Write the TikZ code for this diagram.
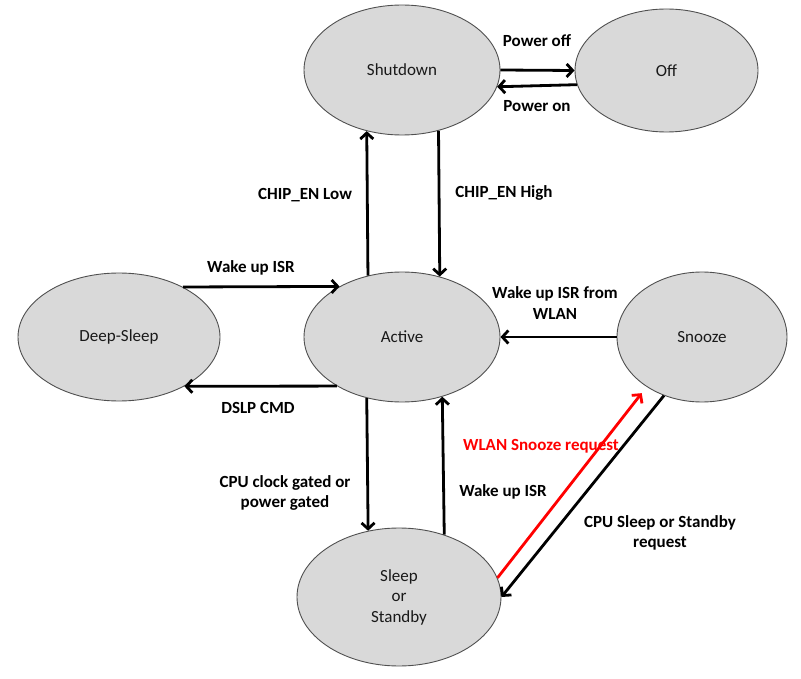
\documentclass[tikz,border=0pt]{standalone}
\usepackage{fontspec}
\setmainfont{Carlito}
\usetikzlibrary{shapes.geometric,arrows.meta}
\definecolor{stfill}{RGB}{217,217,217}
\definecolor{stline}{RGB}{80,80,80}
\definecolor{sttext}{RGB}{25,25,25}
\tikzset{
  state/.style={ellipse, draw=stline, line width=0.9pt, fill=stfill, inner sep=0pt,
    text=sttext, font=\fontsize{17}{20.5}\selectfont, align=center},
  arr/.style={line width=2.8pt, -{Straight Barb[length=6pt,width=13pt]}},
  redarr/.style={arr, draw=red},
  lbl/.style={font=\fontsize{17}{20.5}\selectfont\bfseries, align=center, inner sep=0pt},
  redlbl/.style={lbl, text=red}
}
\begin{document}
\begin{tikzpicture}[x=1pt,y=-1pt]
\useasboundingbox (0,0) rectangle (801,679);
% states
\node[state, minimum width=196pt, minimum height=130pt] (sd) at (402,70) {Shutdown};
\node[state, minimum width=183pt, minimum height=123pt] (off) at (666.5,70.5) {Off};
\node[state, minimum width=202pt, minimum height=128pt] (ds) at (119,337) {Deep-Sleep};
\node[state, minimum width=196pt, minimum height=130pt] (act) at (402,337) {Active};
\node[state, minimum width=170pt, minimum height=130pt] (sn) at (702,337) {Snooze};
\node[state, minimum width=204pt, minimum height=138pt] (sl) at (399,597) {Sleep\\or\\Standby};
% connectors
\draw[arr] (sd.0) -- (off.180);
\draw[arr] (off.189.9) -- (sd.350.4);
\draw[arr] (act.119.1) -- (sd.240.9);
\draw[arr] (sd.301.6) -- (act.58.4);
\draw[arr] (ds.38.4) -- (act.141.4);
\draw[arr] (act.217.3) -- (ds.323);
\draw[arr] (sn.180) -- (act.0);
\draw[arr] (act.240.9) -- (sl.115.3);
\draw[arr] (sl.54.7) -- (act.304.8);
\draw[redarr, shorten >=8pt] (sl.11.8) -- (sn.222);
\draw[arr] (sn.237.4) -- (sl.0);
% labels
\node[lbl] (lpoff) at (537,41) {Power off};
\node[lbl] (lpon) at (537,106) {Power on};
\node[lbl] (lcl) at (305,195) {CHIP\_EN Low};
\node[lbl] (lch) at (504,193) {CHIP\_EN High};
\node[lbl] (lw1) at (251,268) {Wake up ISR};
\node[lbl] (ldslp) at (258,408) {DSLP CMD};
\node[lbl] (lwwlan) at (555,303) {Wake up ISR from\\WLAN};
\node[lbl] (lcpu) at (285,493) {CPU clock gated or\\power gated};
\node[lbl] (lw2) at (503,492) {Wake up ISR};
\node[redlbl] (lsnz) at (541,446) {WLAN Snooze request};
\node[lbl] (lslp) at (660,533) {CPU Sleep or Standby\\request};
\end{tikzpicture}
\end{document}
